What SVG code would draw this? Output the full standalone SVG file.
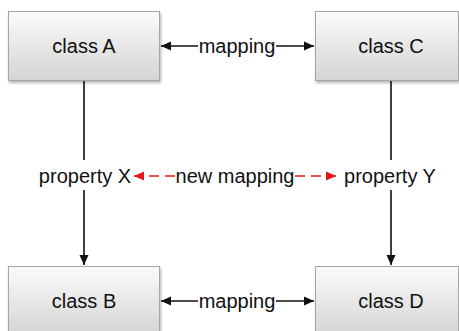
<svg xmlns="http://www.w3.org/2000/svg" width="459" height="331" viewBox="0 0 459 331">
  <defs>
    <linearGradient id="boxFill" x1="0" y1="0" x2="0" y2="1">
      <stop offset="0" stop-color="#fbfbfb"/>
      <stop offset="1" stop-color="#d4d4d4"/>
    </linearGradient>
    <filter id="shadow" x="-10%" y="-10%" width="130%" height="140%">
      <feGaussianBlur in="SourceAlpha" stdDeviation="1.5"/>
      <feOffset dx="1" dy="2" result="b"/>
      <feComponentTransfer><feFuncA type="linear" slope="0.3"/></feComponentTransfer>
      <feMerge><feMergeNode/><feMergeNode in="SourceGraphic"/></feMerge>
    </filter>
    <marker id="arrow" viewBox="0 0 10 10" refX="10" refY="5" markerWidth="11" markerHeight="10" markerUnits="userSpaceOnUse" orient="auto-start-reverse">
      <path d="M0,0.5 L10,5 L0,9.5 Z" fill="#111"/>
    </marker>
    <marker id="arrowRed" viewBox="0 0 10 10" refX="10" refY="5" markerWidth="10" markerHeight="10" markerUnits="userSpaceOnUse" orient="auto-start-reverse">
      <path d="M0,0.5 L10,5 L0,9.5 Z" fill="#e8121b"/>
    </marker>
  </defs>
  <style>
    .box { fill: url(#boxFill); stroke: #a6a6a6; stroke-width: 1; filter: url(#shadow); }
    .label { font-family: "Liberation Sans", Arial, sans-serif; font-size: 20px; fill: #111; text-anchor: middle; }
    .edge { stroke: #111; stroke-width: 1.6; fill: none; }
    .edge-new { stroke: #e8121b; stroke-width: 1.6; fill: none; stroke-dasharray: 10 6; }
  </style>

  <rect width="459" height="331" fill="#ffffff"/>

  <g id="connectors">
    <!-- class A <-> class C -->
    <line class="edge" x1="198" y1="46" x2="161" y2="46" marker-end="url(#arrow)"/>
    <line class="edge" x1="276" y1="46" x2="314" y2="46" marker-end="url(#arrow)"/>
    <text class="label" x="237" y="53">mapping</text>
    <!-- class B <-> class D -->
    <line class="edge" x1="198" y1="301" x2="161" y2="301" marker-end="url(#arrow)"/>
    <line class="edge" x1="276" y1="301" x2="314" y2="301" marker-end="url(#arrow)"/>
    <text class="label" x="237" y="308">mapping</text>
    <!-- class A -> class B -->
    <line class="edge" x1="84" y1="81" x2="84" y2="160"/>
    <line class="edge" x1="84" y1="190" x2="84" y2="265" marker-end="url(#arrow)"/>
    <!-- class C -> class D -->
    <line class="edge" x1="391" y1="81" x2="391" y2="160"/>
    <line class="edge" x1="391" y1="190" x2="391" y2="265" marker-end="url(#arrow)"/>
    <!-- property X <-> property Y -->
    <line class="edge-new" x1="175" y1="176" x2="134" y2="176" marker-end="url(#arrowRed)"/>
    <line class="edge-new" x1="295" y1="176" x2="336" y2="176" marker-end="url(#arrowRed)"/>
    <text class="label" x="235" y="183">new mapping</text>
  </g>

  <g id="propertyX">
    <text class="label" x="85" y="183">property X</text>
  </g>
  <g id="propertyY">
    <text class="label" x="390" y="183">property Y</text>
  </g>

  <g id="classA">
    <rect class="box" x="8.5" y="11.5" width="151" height="69"/>
    <text class="label" x="84" y="53">class A</text>
  </g>
  <g id="classC">
    <rect class="box" x="315.5" y="11.5" width="143" height="69"/>
    <text class="label" x="391" y="53">class C</text>
  </g>
  <g id="classB">
    <rect class="box" x="8.5" y="266.5" width="151" height="69"/>
    <text class="label" x="84" y="308">class B</text>
  </g>
  <g id="classD">
    <rect class="box" x="315.5" y="266.5" width="143" height="69"/>
    <text class="label" x="391" y="308">class D</text>
  </g>
</svg>
